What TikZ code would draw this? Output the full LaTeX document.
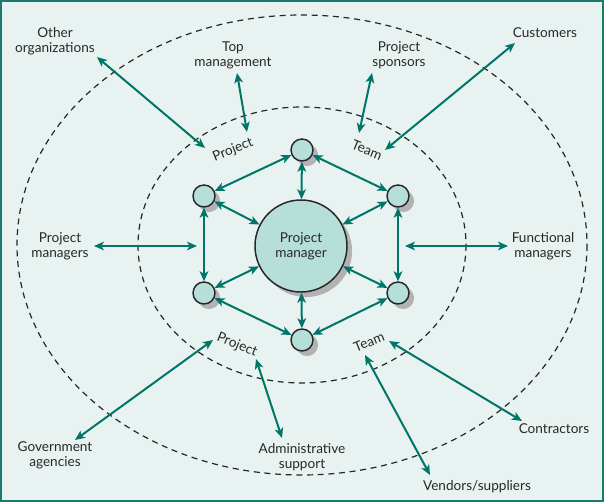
\documentclass[tikz,border=0pt]{standalone}
\usepackage{fontspec}
\setmainfont{Lato}
\usetikzlibrary{arrows.meta,shadows}

\definecolor{bgcol}{RGB}{232,243,241}
\definecolor{framecol}{RGB}{27,122,110}
\definecolor{arrcol}{RGB}{0,117,104}
\definecolor{nodecol}{RGB}{183,223,218}
\definecolor{txtcol}{RGB}{40,40,40}

\tikzset{
  member/.style={circle,draw=black!85,line width=1.1pt,fill=nodecol,minimum size=16.5pt,inner sep=0pt,
    drop shadow={shadow xshift=3.8pt,shadow yshift=-3.8pt,fill=black!30,opacity=1}},
  manager/.style={member,minimum size=69pt,align=center,font=\fontsize{10.2}{11.2}\selectfont,text=txtcol},
  link/.style={draw=arrcol,line width=1.5pt,{Stealth[length=7.5pt,width=6.5pt,inset=2pt]}-{Stealth[length=7.5pt,width=6.5pt,inset=2pt]}},
  party/.style={align=center,font=\fontsize{10.2}{11.2}\selectfont,text=txtcol},
  ring/.style={draw=black!85,line width=0.9pt,dash pattern={on 4.5pt off 3.5pt}}
}

\begin{document}
\begin{tikzpicture}[x=0.75pt,y=0.75pt,yscale=-1]
\useasboundingbox (0,0) rectangle (604,502);

%Background and frame
\draw [fill=bgcol,draw=framecol,line width=1.3pt] (1,1) rectangle (603,501);

%Dashed ellipses
\draw [ring] (302,245) ellipse [x radius=285, y radius=230];
\draw [ring] (302,245) ellipse [x radius=164, y radius=138];

%Project manager and team members
\node [manager] (pm) at (301,246) {Project\\manager};
\node [member] (t)  at (302,150) {};
\node [member] (ul) at (204,196) {};
\node [member] (ur) at (398,196) {};
\node [member] (ll) at (204,293) {};
\node [member] (lr) at (398,293) {};
\node [member] (b)  at (302,340) {};

%Links inside the team
\draw [link] (t) -- (ul);
\draw [link] (t) -- (ur);
\draw [link] (ul) -- (ll);
\draw [link] (ur) -- (lr);
\draw [link] (ll) -- (b);
\draw [link] (lr) -- (b);
\foreach \m in {t,ul,ur,ll,lr,b}
  \draw [link] (\m) -- (pm);

% Text Node
\node [party,rotate=22]  (prjA)  at (233,150) {Project};
\node [party,rotate=-22] (teamA) at (367,150) {Team};
\node [party,rotate=-22] (prjB)  at (237,345) {Project};
\node [party,rotate=22]  (teamB) at (369,342) {Team};

% Text Node
\node [party] (oth) at (55,41) {Other\\organizations};
\node [party] (top) at (233,55) {Top\\management};
\node [party] (spo) at (399,55) {Project\\sponsors};
\node [party] (cus) at (545,33) {Customers};
\node [party] (pmg) at (60,246) {Project\\managers};
\node [party] (fmg) at (543,246) {Functional\\managers};
\node [party] (gov) at (55,455) {Government\\agencies};
\node [party] (adm) at (302,457) {Administrative\\support};
\node [party] (con) at (554,429) {Contractors};
\node [party] (ven) at (477,487) {Vendors/suppliers};

%Arrow ends
\coordinate (oth-e) at (97,57);   \coordinate (prjA-e) at (205,148);
\coordinate (top-e) at (237,73);  \coordinate (prjA-f) at (247,132);
\coordinate (spo-e) at (372,73);  \coordinate (teamA-e) at (359,133);
\coordinate (cus-e) at (515,43);  \coordinate (teamA-f) at (385,150);
\coordinate (pmg-e) at (94,246);  \coordinate (ul-w) at (197,246);
\coordinate (fmg-e) at (508,246); \coordinate (ur-e) at (405,246);
\coordinate (gov-e) at (75,440);  \coordinate (prjB-e) at (213,340);
\coordinate (adm-e) at (282,438); \coordinate (prjB-f) at (256,359);
\coordinate (con-e) at (522,421); \coordinate (teamB-e) at (389,341);
\coordinate (ven-e) at (430,475); \coordinate (teamB-f) at (365,355);

%Links to outside parties
\draw [link] (oth-e) -- (prjA-e);
\draw [link] (top-e) -- (prjA-f);
\draw [link] (spo-e) -- (teamA-e);
\draw [link] (cus-e) -- (teamA-f);
\draw [link] (pmg-e) -- (ul-w);
\draw [link] (fmg-e) -- (ur-e);
\draw [link] (gov-e) -- (prjB-e);
\draw [link] (adm-e) -- (prjB-f);
\draw [link] (con-e) -- (teamB-e);
\draw [link] (ven-e) -- (teamB-f);

\end{tikzpicture}
\end{document}
